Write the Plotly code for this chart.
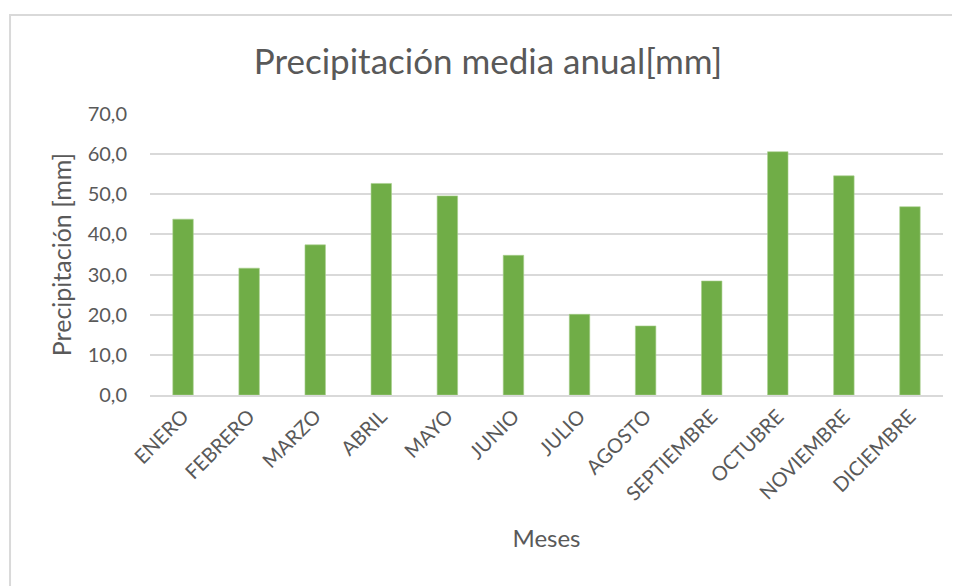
import plotly.graph_objects as go

meses = ['ENERO', 'FEBRERO', 'MARZO', 'ABRIL', 'MAYO', 'JUNIO', 'JULIO',
         'AGOSTO', 'SEPTIEMBRE', 'OCTUBRE', 'NOVIEMBRE', 'DICIEMBRE']
precipitacion = [43.8, 31.6, 37.4, 52.7, 49.6, 34.8, 20.1, 17.2, 28.4, 60.6, 54.6, 46.9]
y_ticks = [0, 10, 20, 30, 40, 50, 60, 70]

FONT = "Lato, Carlito, Calibri, sans-serif"
GREY_TXT = "#595959"
GRID = "#d9d9d9"

fig = go.Figure()
fig.add_trace(go.Bar(x=meses, y=precipitacion,
                     marker=dict(color='#70ad47', line=dict(width=0.6, color='#a9d08e'))))

# the page body adds an 8px offset, margins compensate for it
fig.update_layout(
    width=960, height=586,
    margin=dict(l=142, r=25, t=106, b=199, autoexpand=False),
    paper_bgcolor='white', plot_bgcolor='white',
    separators=',.',
    bargap=0.69,
    showlegend=False,
    font=dict(family=FONT, color=GREY_TXT, size=20),
    title=dict(text='Precipitación media anual[mm]',
               x=0.5, xanchor='center', y=0.908, yanchor='middle',
               font=dict(family=FONT, size=35, color=GREY_TXT)),
    xaxis=dict(
        title=dict(text='Meses', font=dict(size=24, color=GREY_TXT), standoff=26),
        tickangle=-45,
        tickfont=dict(size=20, color=GREY_TXT),
        showline=True, linecolor=GRID, linewidth=1.8,
        showgrid=False, ticks='',
        automargin=False,
    ),
    yaxis=dict(
        title=dict(text='Precipitación [mm]', font=dict(size=25, color=GREY_TXT), standoff=8),
        range=[0, 70],
        tickvals=y_ticks,
        tickformat='.1f',
        tickfont=dict(size=20, color=GREY_TXT),
        showgrid=True, gridcolor=GRID, gridwidth=1.8,
        zeroline=False,
        ticks='', ticklabelstandoff=22,
        automargin=False,
    ),
)

# chart-area border (Excel style), in paper coordinates of the plot area
fig.add_shape(type='rect', xref='paper', yref='paper',
              x0=-0.1765, x1=1.05, y0=-0.75, y1=1.352,
              line=dict(color=GRID, width=2), layer='below')

fig.write_html("out.html")
